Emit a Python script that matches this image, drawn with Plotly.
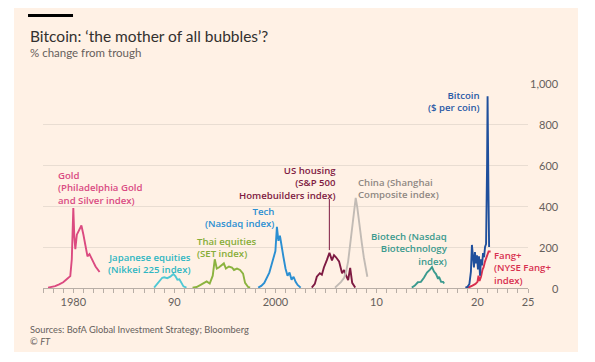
import plotly.graph_objects as go

# ---------------- data (year, % change from trough) ----------------
gold_x = [1977.5, 1977.8, 1978.2, 1978.6, 1979.0, 1979.4, 1979.7, 1979.85, 1980.0, 1980.1, 1980.2, 1980.35,
          1980.6, 1980.8, 1981.0, 1981.2, 1981.4, 1981.6, 1981.8, 1982.0, 1982.2, 1982.4, 1982.6]
gold_y = [2, 4, 9, 18, 28, 45, 58, 140, 390, 250, 190, 260, 290, 305, 260, 200, 155, 165, 140, 125, 105, 90, 78]

nikkei_x = [1988.0, 1988.3, 1988.5, 1988.8, 1989.0, 1989.3, 1989.6, 1989.9, 1990.1, 1990.3, 1990.5, 1990.7, 1990.9, 1991.2]
nikkei_y = [2, 20, 35, 50, 52, 48, 55, 68, 58, 40, 42, 25, 8, 2]

thai_x = [1991.8, 1992.2, 1992.6, 1992.9, 1993.2, 1993.5, 1993.8, 1994.0, 1994.2, 1994.4, 1994.7, 1994.9,
          1995.1, 1995.4, 1995.7, 1995.9, 1996.2, 1996.5, 1996.8, 1997.0, 1997.3, 1997.5]
thai_y = [2, 5, 15, 22, 32, 22, 60, 140, 95, 100, 112, 120, 95, 105, 100, 88, 95, 88, 70, 25, 5, 2]

tech_x = [1998.3, 1998.6, 1998.9, 1999.2, 1999.4, 1999.6, 1999.8, 2000.0, 2000.15, 2000.3, 2000.45, 2000.6,
          2000.8, 2001.0, 2001.2, 2001.4, 2001.6, 2001.8, 2002.0, 2002.2, 2002.5]
tech_y = [2, 10, 25, 55, 75, 110, 140, 180, 298, 230, 255, 200, 150, 95, 60, 75, 40, 55, 30, 15, 2]

housing_x = [2003.6, 2003.9, 2004.1, 2004.4, 2004.6, 2004.8, 2005.1, 2005.35, 2005.6, 2005.8, 2006.0, 2006.3,
             2006.6, 2006.8, 2007.0, 2007.2, 2007.4, 2007.6, 2007.9]
housing_y = [2, 20, 55, 72, 65, 100, 137, 172, 135, 160, 150, 130, 72, 88, 60, 39, 98, 25, 2]

china_x = [2005.9, 2006.2, 2006.5, 2006.8, 2007.0, 2007.2, 2007.35, 2007.5, 2007.65, 2007.8, 2007.95, 2008.1,
           2008.25, 2008.4, 2008.55, 2008.75, 2008.9, 2009.1]
china_y = [2, 15, 30, 50, 80, 130, 190, 240, 300, 380, 440, 395, 330, 290, 220, 150, 110, 55]

biotech_x = [2013.5, 2013.8, 2014.1, 2014.4, 2014.7, 2015.0, 2015.3, 2015.5, 2015.7, 2015.9, 2016.1, 2016.2,
             2016.4, 2016.6, 2016.7]
biotech_y = [2, 12, 28, 30, 50, 75, 90, 102, 80, 68, 45, 55, 30, 30, 22]

bitcoin_x = [2018.8, 2019.0, 2019.2, 2019.35, 2019.45, 2019.55, 2019.65, 2019.75, 2019.85, 2019.95, 2020.05,
             2020.15, 2020.25, 2020.35, 2020.45, 2020.55, 2020.65, 2020.75, 2020.85, 2020.95, 2021.0, 2021.08, 2021.15]
bitcoin_y = [2, 5, 20, 80, 210, 150, 100, 175, 120, 160, 90, 155, 60, 140, 110, 170, 150, 200, 215, 600, 935, 500, 200]

fang_x = [2018.9, 2019.2, 2019.5, 2019.8, 2020.0, 2020.1, 2020.2, 2020.35, 2020.5, 2020.6, 2020.75, 2020.9,
          2021.0, 2021.1, 2021.3]
fang_y = [2, 5, 12, 20, 30, 60, 35, 55, 90, 100, 130, 150, 165, 178, 178]

y_ticks = [0, 200, 400, 600, 800, 1000]
y_ticklabels = ["0", "200", "400", "600", "800", "1,000"]
x_ticks = [1980, 1990, 2000, 2010, 2020, 2025]
x_ticklabels = ["1980", "90", "2000", "10", "20", "25"]

# ---------------- styling ----------------
FONT = "Lato"
LABEL_FONT = "Open Sans"
GREY = "#66605c"

series = [
    (gold_x, gold_y, "#db4a80", "Gold"),
    (nikkei_x, nikkei_y, "#4fc8d4", "Japanese equities"),
    (thai_x, thai_y, "#8bb33f", "Thai equities"),
    (tech_x, tech_y, "#2b8fd2", "Tech"),
    (housing_x, housing_y, "#7e1a42", "US housing"),
    (china_x, china_y, "#c2bbb5", "China"),
    (biotech_x, biotech_y, "#3b9a8e", "Biotech"),
    (fang_x, fang_y, "#d8304f", "Fang+"),
    (bitcoin_x, bitcoin_y, "#1f4f9c", "Bitcoin"),
]

fig = go.Figure()
for xs, ys, col, name in series:
    fig.add_trace(go.Scatter(x=xs, y=ys, mode="lines", name=name,
                             line=dict(color=col, width=1.9), showlegend=False,
                             hoverinfo="skip"))

# labels: (text, x, y-centre, anchor, colour)
labels = [
    ("Gold<br>(Philadelphia Gold<br>and Silver index)", 1978.39, 488, "left", "#d94b82"),
    ("Japanese equities<br>(Nikkei 225 index)", 1991.75, 119.5, "right", "#2fb6c2"),
    ("Thai equities<br>(SET index)", 1992.14, 195.5, "left", "#86ad38"),
    ("Tech<br>(Nasdaq index)", 1999.96, 341.5, "right", "#2b8fd2"),
    ("US housing<br>(S&P 500<br>Homebuilders index)", 2006.1, 510, "right", "#7e1a42"),
    ("China (Shanghai<br>Composite index)", 2008.08, 483, "left", "#8f8883"),
    ("Biotech (Nasdaq<br>Biotechnology<br>index)", 2017.18, 192, "right", "#3b9a8e"),
    ("Bitcoin<br>($ per coin)", 2020.35, 907.5, "right", "#2a5aa6"),
    ("Fang+<br>(NYSE Fang+<br>index)", 2021.54, 98, "left", "#d8304f"),
]
for txt, lx, ly, anchor, col in labels:
    fig.add_annotation(x=lx, y=ly, xref="x", yref="y", text=txt, showarrow=False,
                       xanchor=anchor, yanchor="middle", align=anchor, borderpad=0,
                       font=dict(family=LABEL_FONT, size=9.6, color=col, weight=600))

# US housing pointer
fig.add_shape(type="line", xref="x", yref="y", x0=2005.34, x1=2005.34, y0=185, y1=434,
              line=dict(color="#7e1a42", width=1))

# right-aligned y tick labels
for v, t in zip(y_ticks, y_ticklabels):
    fig.add_annotation(x=1.066, y=v, xref="paper", yref="y", text=t, showarrow=False,
                       xanchor="right", yanchor="middle", borderpad=0,
                       font=dict(family=FONT, size=11, color=GREY))

# panel background
fig.add_shape(type="rect", xref="paper", yref="paper", x0=-0.0598, x1=1.1031, y0=-0.3122, y1=1.3659,
              fillcolor="#fff1e5", line=dict(width=0), layer="below")
# black bar
fig.add_shape(type="rect", xref="paper", yref="paper", x0=-0.0309, x1=0.0619, y0=1.322, y1=1.3366,
              fillcolor="#000000", line=dict(width=0))

fig.add_annotation(x=-0.0309, y=1.229, xref="paper", yref="paper", showarrow=False,
                   text="Bitcoin: ‘the mother of all bubbles’?", xanchor="left", yanchor="middle",
                   font=dict(family=FONT, size=15.5, color="#33302e"))
fig.add_annotation(x=-0.0309, y=1.151, xref="paper", yref="paper", showarrow=False,
                   text="% change from trough", xanchor="left", yanchor="middle",
                   font=dict(family=FONT, size=11.5, color=GREY))
fig.add_annotation(x=-0.0309, y=-0.2, xref="paper", yref="paper", showarrow=False,
                   text="Sources: BofA Global Investment Strategy; Bloomberg", xanchor="left", yanchor="middle",
                   font=dict(family=FONT, size=9.3, color=GREY))
fig.add_annotation(x=-0.0309, y=-0.259, xref="paper", yref="paper", showarrow=False,
                   text="© <i>FT</i>", xanchor="left", yanchor="middle",
                   font=dict(family=FONT, size=9.3, color=GREY))

fig.update_layout(
    width=595, height=362,
    margin=dict(l=43, r=67, t=83, b=74),
    paper_bgcolor="white", plot_bgcolor="rgba(0,0,0,0)",
    font=dict(family=FONT, color=GREY),
    xaxis=dict(range=[1977, 2025], tickvals=x_ticks, ticktext=x_ticklabels,
               showgrid=False, zeroline=False, showline=True, linecolor="#b8aea6", linewidth=1,
               ticks="outside", ticklen=4, tickcolor="#b8aea6",
               minor=dict(ticks="outside", ticklen=4, tickcolor="#b8aea6", dtick=1, tick0=1980, showgrid=False),
               tickfont=dict(family=FONT, size=11, color=GREY)),
    yaxis=dict(range=[0, 1000], tickvals=y_ticks, showticklabels=False,
               showgrid=True, gridcolor="#e9ddd2", gridwidth=1, zeroline=False, side="right"),
)

fig.write_html("out.html", config={"displayModeBar": False, "staticPlot": True},
               post_script="document.body.style.margin='0px';")
